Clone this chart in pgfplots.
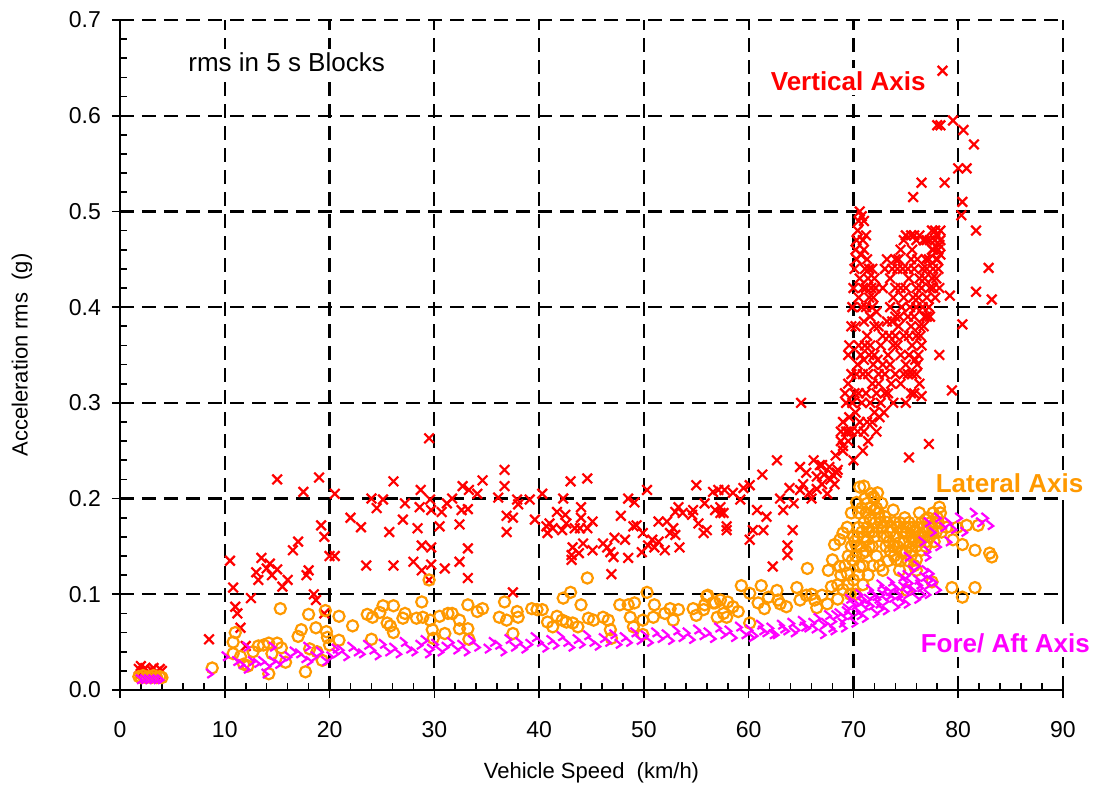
\documentclass[border=0pt]{standalone}
\usepackage{pgfplots}
\pgfplotsset{compat=1.18}
\usepackage{fontspec}
\setmainfont{Liberation Sans}
\definecolor{cred}{RGB}{255,0,0}
\definecolor{corange}{RGB}{255,153,0}
\definecolor{cmag}{RGB}{255,0,255}
\pgfdeclareplotmark{fa}{%
  \pgfpathmoveto{\pgfqpoint{-0.5\pgfplotmarksize}{0.8\pgfplotmarksize}}%
  \pgfpathlineto{\pgfqpoint{0.6\pgfplotmarksize}{-0.1\pgfplotmarksize}}%
  \pgfpathlineto{\pgfqpoint{-0.3\pgfplotmarksize}{-0.7\pgfplotmarksize}}%
  \pgfusepathqstroke}
\begin{document}
\begin{tikzpicture}
\begin{axis}[
  scale only axis, width=471.5pt, height=335pt,
  at={(0,0)}, anchor=south west,
  xmin=0, xmax=90, ymin=0, ymax=0.7,
  xtick={0,10,...,90}, ytick={0,0.1,...,0.7},
  minor x tick num=4, minor y tick num=4,
  axis lines=left, axis line style={-, line width=1.1pt},
  grid=major, major grid style={black, line width=1.1pt, dash pattern=on 7pt off 4pt},
  tick align=center, major tick length=8pt, minor tick length=3.5pt,
  tick style={black, line width=0.8pt},
  minor x tick style={yshift=1.75pt}, minor y tick style={xshift=1.75pt},
  y tick label style={/pgf/number format/fixed, /pgf/number format/fixed zerofill, /pgf/number format/precision=1, xshift=-2pt},
  /pgf/number format/assume math mode=true,
  ticklabel style={font=\fontsize{11.5}{13}\selectfont},
  x tick label style={yshift=-8pt},
  xlabel={Vehicle Speed\ \ (km/h)}, ylabel={Acceleration rms\ \ (g)},
  label style={font=\fontsize{11}{13}\selectfont},
  xlabel style={at={(axis description cs:0.5,-0.124)}, anchor=center},
  ylabel style={at={(axis description cs:-0.104,0.5)}, anchor=center},
  clip=false,
]
\draw[black, line width=1.1pt] (axis cs:90,0.070) -- (axis cs:90,0.196);
\node[font=\fontsize{13}{15}\selectfont, fill=white, inner sep=2pt] at (axis cs:15.9,0.656) {rms in 5 s Blocks};
% Vertical axis (red)
\addplot[only marks, mark=x, mark size=3.4pt, color=cred, line width=1.1pt] table {
1.8 0.022
2.0 0.025
2.2 0.020
2.4 0.023
2.6 0.018
2.0 0.017
3.0 0.021
3.2 0.023
3.5 0.019
3.8 0.022
4.0 0.020
3.4 0.017
2.8 0.016
8.5 0.053
10.5 0.135
10.8 0.107
11.0 0.087
11.2 0.080
11.5 0.065
12.0 0.046
12.5 0.096
13.0 0.123
13.2 0.115
13.5 0.138
14.0 0.127
14.3 0.132
14.5 0.120
15.0 0.220
15.0 0.126
15.5 0.108
16.0 0.115
16.5 0.146
17.0 0.155
17.5 0.207
17.8 0.120
18.0 0.125
18.5 0.100
18.7 0.094
19.0 0.222
19.2 0.172
19.5 0.160
19.5 0.080
20.0 0.140
20.5 0.205
20.5 0.140
22.0 0.180
23.0 0.170
23.5 0.130
24.0 0.200
24.5 0.190
25.1 0.199
26.1 0.218
25.7 0.165
26.1 0.130
27.0 0.178
27.2 0.195
28.0 0.134
28.4 0.169
28.6 0.191
28.7 0.209
28.8 0.151
28.8 0.125
29.5 0.263
29.6 0.199
29.7 0.188
29.7 0.149
29.7 0.131
29.5 0.115
30.5 0.171
30.7 0.186
31.0 0.127
31.2 0.195
31.7 0.200
32.4 0.173
32.4 0.134
32.6 0.188
32.7 0.213
33.2 0.148
33.2 0.117
33.2 0.189
33.3 0.209
34.1 0.205
34.6 0.219
36.1 0.201
36.7 0.230
36.7 0.213
36.9 0.182
36.9 0.165
37.5 0.180
37.5 0.102
37.9 0.199
38.0 0.194
39.1 0.199
39.6 0.178
40.3 0.205
40.7 0.171
41.0 0.174
40.8 0.164
41.3 0.169
41.7 0.186
42.2 0.167
42.3 0.200
42.5 0.183
42.6 0.174
43.0 0.218
43.2 0.149
43.1 0.141
43.1 0.136
43.4 0.169
43.8 0.143
43.9 0.169
44.0 0.180
44.0 0.191
44.2 0.153
44.6 0.221
44.6 0.169
45.1 0.176
45.1 0.146
46.1 0.153
46.5 0.149
46.8 0.144
46.9 0.121
47.1 0.139
47.2 0.159
47.8 0.182
48.2 0.157
48.5 0.138
48.5 0.200
49.0 0.171
49.1 0.196
49.3 0.172
49.8 0.144
49.9 0.164
50.3 0.209
50.4 0.151
50.8 0.157
51.0 0.149
51.4 0.176
51.4 0.155
52.0 0.146
52.2 0.176
52.5 0.164
52.8 0.169
53.0 0.186
53.0 0.162
53.3 0.191
53.4 0.149
53.7 0.185
54.6 0.183
54.7 0.188
55.0 0.214
55.2 0.174
55.7 0.164
55.8 0.195
56.6 0.207
56.8 0.188
57.1 0.209
57.3 0.191
57.6 0.185
57.9 0.167
57.7 0.209
56.0 0.167
57.3 0.185
57.9 0.171
58.5 0.206
59.2 0.199
59.5 0.211
60.1 0.214
60.1 0.157
60.4 0.167
60.8 0.188
61.4 0.167
61.7 0.181
61.3 0.225
62.3 0.129
62.7 0.240
63.0 0.200
63.3 0.188
63.7 0.151
63.7 0.141
63.9 0.211
64.2 0.167
64.9 0.233
64.9 0.209
65.0 0.300
65.5 0.227
65.8 0.206
66.5 0.223
66.8 0.235
67.0 0.215
67.5 0.205
67.7 0.233
68.0 0.225
68.4 0.227
68.3 0.245
68.5 0.230
68.8 0.260
69.0 0.280
69.0 0.250
69.3 0.300
69.5 0.270
69.5 0.320
69.8 0.330
64.3 0.195
65.2 0.215
66.0 0.200
66.5 0.210
67.2 0.225
67.8 0.220
68.2 0.215
66.2 0.240
67.0 0.235
68.8 0.270
69.2 0.310
69.5 0.350
69.6 0.360
69.8 0.380
69.9 0.400
70.0 0.420
70.1 0.440
70.2 0.460
70.3 0.470
70.4 0.480
70.5 0.490
70.6 0.500
70.8 0.495
71.0 0.490
71.2 0.475
70.7 0.455
71.0 0.460
71.3 0.450
71.5 0.440
71.8 0.440
72.0 0.430
71.2 0.420
71.5 0.410
71.8 0.400
72.2 0.395
70.8 0.400
71.0 0.385
71.3 0.370
71.6 0.360
72.0 0.350
72.3 0.345
72.6 0.360
71.0 0.345
71.4 0.330
71.8 0.320
72.2 0.310
72.6 0.300
73.0 0.310
70.5 0.360
70.3 0.330
70.5 0.310
70.8 0.300
70.2 0.290
69.8 0.270
70.6 0.280
71.0 0.270
71.4 0.260
71.8 0.280
72.2 0.270
72.5 0.285
69.5 0.260
70.0 0.240
69.0 0.255
73.0 0.330
73.3 0.350
73.5 0.340
73.8 0.360
72.8 0.370
73.2 0.385
73.5 0.400
73.8 0.410
72.8 0.420
73.0 0.440
73.2 0.450
73.5 0.430
74.0 0.420
74.2 0.440
74.5 0.460
74.8 0.470
75.0 0.475
74.5 0.420
74.0 0.390
74.3 0.380
74.6 0.400
74.2 0.360
74.5 0.350
74.8 0.370
75.0 0.340
75.2 0.330
75.5 0.310
75.0 0.300
74.5 0.320
74.0 0.330
73.8 0.300
75.3 0.370
75.5 0.380
75.6 0.360
75.8 0.390
76.0 0.400
76.0 0.370
76.2 0.410
76.3 0.380
76.5 0.420
76.6 0.400
76.8 0.430
77.0 0.440
77.0 0.410
77.2 0.450
77.3 0.420
77.5 0.460
77.6 0.440
77.8 0.470
78.0 0.450
78.0 0.475
78.2 0.465
78.3 0.480
77.5 0.430
77.8 0.410
77.2 0.400
76.8 0.390
76.5 0.360
76.2 0.350
75.9 0.345
76.0 0.330
76.3 0.320
75.8 0.440
76.0 0.470
75.5 0.475
75.2 0.440
77.0 0.470
77.5 0.480
70.3 0.450
70.6 0.430
70.9 0.470
71.1 0.440
71.4 0.430
71.7 0.420
71.9 0.410
72.1 0.420
71.2 0.400
71.6 0.390
72.0 0.380
72.4 0.380
71.1 0.360
71.5 0.350
71.9 0.340
72.4 0.330
72.8 0.340
71.2 0.310
71.6 0.300
72.0 0.290
72.4 0.320
72.9 0.290
73.3 0.310
73.6 0.320
70.4 0.340
70.7 0.350
70.9 0.330
70.1 0.310
69.9 0.300
70.4 0.270
70.9 0.250
71.3 0.280
69.6 0.285
69.3 0.270
70.2 0.380
70.5 0.410
70.9 0.420
73.4 0.370
73.7 0.385
74.0 0.370
74.4 0.390
74.8 0.410
75.0 0.420
75.3 0.430
75.5 0.450
74.7 0.440
74.3 0.450
74.0 0.450
73.7 0.440
74.8 0.330
75.3 0.350
75.6 0.330
75.8 0.310
76.1 0.340
76.4 0.370
76.7 0.380
77.0 0.390
77.3 0.390
77.6 0.420
77.9 0.430
78.1 0.440
78.2 0.420
77.9 0.450
77.6 0.460
77.3 0.470
76.9 0.450
76.6 0.440
76.3 0.430
76.0 0.420
75.7 0.410
75.4 0.400
75.2 0.390
77.8 0.480
78.1 0.460
78.3 0.455
78.3 0.470
76.7 0.470
76.3 0.475
75.8 0.475
75.6 0.460
76.1 0.450
76.5 0.530
75.7 0.515
78.5 0.647
79.5 0.595
78.0 0.590
78.3 0.590
80.5 0.585
81.5 0.570
80.0 0.545
80.8 0.545
78.7 0.530
80.4 0.510
80.3 0.496
81.7 0.480
82.9 0.441
81.7 0.416
83.2 0.408
80.4 0.382
79.2 0.412
79.4 0.313
76.5 0.307
77.2 0.257
75.3 0.243
78.2 0.350
};
% Lateral axis (orange)
\addplot[only marks, mark=o, mark size=2.8pt, color=corange, line width=1.1pt] table {
1.8 0.014
2.0 0.013
2.2 0.015
2.5 0.013
2.8 0.014
3.0 0.013
3.2 0.015
3.5 0.013
3.8 0.014
4.0 0.013
8.8 0.023
11.0 0.060
10.8 0.050
10.8 0.038
11.5 0.035
11.8 0.027
12.2 0.025
12.7 0.040
13.2 0.046
13.7 0.047
14.2 0.049
14.5 0.038
15.0 0.049
15.3 0.085
15.4 0.044
15.8 0.029
14.2 0.017
17.0 0.056
17.3 0.063
18.0 0.079
18.7 0.065
18.1 0.043
17.7 0.019
18.8 0.040
19.3 0.031
19.7 0.061
19.6 0.083
19.8 0.055
20.0 0.047
20.9 0.077
20.9 0.052
22.2 0.067
23.6 0.079
24.1 0.076
24.0 0.053
24.8 0.081
25.1 0.088
25.5 0.070
26.1 0.088
26.1 0.060
25.8 0.067
27.2 0.080
27.0 0.075
28.8 0.092
28.3 0.075
28.9 0.076
29.6 0.073
29.5 0.115
29.8 0.063
29.9 0.054
30.5 0.077
31.0 0.059
31.3 0.080
31.7 0.080
32.4 0.073
32.4 0.064
33.2 0.089
33.2 0.064
33.3 0.053
34.1 0.082
34.6 0.085
36.2 0.076
36.7 0.092
36.9 0.073
37.5 0.059
37.9 0.082
38.0 0.076
39.3 0.085
39.8 0.084
40.3 0.084
40.8 0.071
41.3 0.066
41.7 0.077
42.3 0.096
43.0 0.102
42.2 0.073
42.6 0.071
43.2 0.070
43.7 0.066
44.0 0.089
44.6 0.117
44.7 0.075
45.2 0.073
46.1 0.076
46.6 0.073
46.8 0.063
46.9 0.054
47.7 0.089
48.5 0.089
49.1 0.091
48.7 0.076
49.0 0.066
49.9 0.073
50.3 0.102
49.9 0.058
51.0 0.089
50.9 0.076
52.0 0.080
52.5 0.085
53.3 0.084
52.8 0.073
54.7 0.085
55.0 0.078
55.8 0.089
56.1 0.099
56.8 0.091
57.3 0.094
57.6 0.080
57.0 0.076
56.0 0.098
55.7 0.084
56.6 0.091
57.9 0.076
58.5 0.087
59.3 0.109
60.1 0.101
60.1 0.070
60.9 0.091
61.2 0.109
61.9 0.097
62.7 0.104
62.8 0.094
63.6 0.087
64.6 0.107
64.9 0.094
65.5 0.099
66.3 0.094
67.0 0.099
65.6 0.127
67.6 0.125
67.9 0.108
68.0 0.136
68.2 0.152
68.7 0.157
69.0 0.164
69.4 0.170
69.8 0.185
70.3 0.196
70.6 0.212
71.0 0.213
68.7 0.129
69.4 0.122
69.9 0.136
70.3 0.150
70.6 0.129
70.9 0.143
71.3 0.157
71.6 0.178
72.0 0.188
72.3 0.206
71.9 0.202
71.3 0.195
72.7 0.195
73.0 0.181
73.2 0.160
73.8 0.188
73.8 0.150
74.1 0.136
74.4 0.125
74.4 0.154
75.1 0.164
75.7 0.170
76.3 0.185
76.9 0.178
77.6 0.185
78.2 0.191
76.5 0.146
76.0 0.136
75.7 0.157
77.6 0.164
78.4 0.165
78.9 0.170
75.1 0.104
77.5 0.113
79.4 0.107
80.4 0.097
81.6 0.107
80.4 0.152
81.6 0.146
83.0 0.143
83.2 0.139
80.8 0.172
81.9 0.172
79.9 0.170
79.5 0.157
69.0 0.105
69.5 0.110
70.0 0.115
70.5 0.120
70.8 0.165
71.0 0.175
71.2 0.185
70.5 0.170
70.0 0.160
70.2 0.140
71.5 0.165
71.8 0.150
72.0 0.160
72.3 0.170
72.5 0.180
72.2 0.190
72.8 0.170
73.2 0.175
73.5 0.165
73.5 0.145
74.0 0.160
74.2 0.170
74.6 0.145
74.8 0.155
75.0 0.170
75.3 0.150
75.5 0.140
75.5 0.160
75.8 0.165
76.0 0.150
76.2 0.160
76.5 0.175
76.6 0.160
76.8 0.165
77.0 0.155
77.2 0.170
77.4 0.175
77.8 0.175
78.0 0.180
76.0 0.125
75.8 0.130
66.5 0.086
67.5 0.090
68.5 0.095
66.0 0.100
63.0 0.090
61.5 0.085
59.0 0.082
58.0 0.092
68.5 0.110
68.8 0.120
69.2 0.130
69.5 0.140
69.8 0.150
70.1 0.155
70.4 0.160
70.7 0.150
71.0 0.160
71.3 0.170
71.6 0.190
71.1 0.200
70.8 0.190
70.5 0.185
70.9 0.130
71.2 0.145
71.5 0.150
71.8 0.165
72.1 0.175
72.4 0.185
72.6 0.175
72.9 0.160
73.1 0.150
73.4 0.155
73.6 0.170
73.9 0.175
74.2 0.150
74.5 0.135
74.7 0.165
75.0 0.145
75.2 0.135
75.4 0.170
75.6 0.145
75.9 0.155
76.1 0.170
76.4 0.155
76.7 0.170
76.9 0.150
77.1 0.180
77.3 0.160
77.5 0.170
77.7 0.155
77.9 0.165
78.1 0.175
78.3 0.185
75.3 0.175
74.9 0.180
74.4 0.175
73.9 0.140
73.3 0.135
72.8 0.125
72.5 0.130
72.2 0.140
71.9 0.130
71.4 0.120
70.9 0.110
70.2 0.100
69.7 0.100
71.7 0.205
72.0 0.200
};
% Fore/aft axis (magenta)
\addplot[only marks, mark=fa, mark size=3.0pt, color=cmag, line width=1.1pt] table {
1.8 0.011
2.2 0.011
2.6 0.011
3.0 0.011
3.4 0.011
3.8 0.011
8.5 0.017
10.0 0.035
11.0 0.030
11.5 0.027
12.0 0.022
12.5 0.030
13.0 0.028
13.5 0.030
14.0 0.025
14.5 0.030
15.0 0.027
15.5 0.032
16.0 0.035
16.5 0.040
17.0 0.038
17.5 0.033
17.8 0.045
18.0 0.030
18.5 0.035
19.0 0.040
19.5 0.030
20.0 0.035
20.5 0.043
13.8 0.017
14.5 0.045
12.0 0.045
20.5 0.038
21.0 0.042
21.5 0.035
22.0 0.045
22.5 0.040
23.0 0.038
23.5 0.047
24.0 0.042
24.5 0.036
25.0 0.048
25.5 0.040
26.0 0.044
26.5 0.038
27.0 0.050
27.5 0.043
28.0 0.040
28.5 0.047
29.0 0.052
29.3 0.038
29.6 0.043
30.0 0.048
30.5 0.040
31.0 0.045
31.5 0.050
32.0 0.042
32.5 0.047
33.0 0.040
33.5 0.052
34.0 0.045
35.0 0.043
35.5 0.050
36.0 0.047
36.5 0.040
37.0 0.053
37.5 0.045
38.0 0.050
38.5 0.043
39.0 0.048
39.5 0.055
40.0 0.050
40.5 0.044
41.0 0.052
41.5 0.047
42.0 0.056
42.5 0.050
43.0 0.045
43.5 0.053
44.0 0.048
44.5 0.057
45.0 0.050
45.5 0.046
46.0 0.054
46.5 0.050
47.0 0.058
47.5 0.048
48.0 0.055
48.5 0.050
49.0 0.060
49.5 0.052
50.0 0.057
50.5 0.050
51.0 0.060
51.5 0.054
52.0 0.058
52.5 0.052
53.0 0.062
53.5 0.055
54.0 0.060
54.5 0.053
55.0 0.063
55.5 0.057
56.0 0.060
56.5 0.054
57.0 0.065
57.5 0.058
58.0 0.062
58.5 0.055
59.0 0.066
59.5 0.058
60.0 0.063
60.5 0.057
61.0 0.068
61.5 0.060
62.0 0.065
62.5 0.058
63.0 0.068
63.5 0.062
64.0 0.070
64.5 0.063
65.0 0.072
65.5 0.065
66.0 0.070
66.5 0.075
67.0 0.068
67.5 0.078
68.0 0.072
68.5 0.080
69.0 0.075
69.3 0.085
69.6 0.078
70.0 0.088
70.3 0.082
70.6 0.092
71.0 0.085
71.3 0.095
71.6 0.088
72.0 0.098
72.3 0.090
72.6 0.100
73.0 0.093
73.3 0.103
73.6 0.096
74.0 0.106
74.3 0.098
74.6 0.108
75.0 0.100
75.3 0.112
75.6 0.104
76.0 0.115
76.3 0.107
76.6 0.118
77.0 0.110
77.3 0.122
77.6 0.113
75.5 0.125
76.0 0.130
75.0 0.120
74.5 0.118
73.5 0.113
72.5 0.110
71.5 0.105
70.5 0.100
69.5 0.095
70.0 0.070
71.0 0.075
72.0 0.080
73.0 0.083
74.0 0.087
75.0 0.090
76.0 0.095
77.0 0.100
78.0 0.105
69.0 0.065
68.0 0.062
67.0 0.058
60.2 0.055
61.2 0.062
62.2 0.058
63.2 0.064
64.2 0.060
65.2 0.066
66.2 0.064
67.2 0.070
68.2 0.078
69.2 0.082
70.2 0.090
71.2 0.090
72.2 0.095
73.2 0.098
74.2 0.100
75.2 0.105
76.2 0.110
77.2 0.115
76.8 0.125
74.8 0.113
73.8 0.108
72.8 0.105
71.8 0.100
70.8 0.095
69.8 0.090
68.8 0.070
67.8 0.065
70.5 0.078
72.5 0.085
74.5 0.092
76.5 0.100
75.1 0.139
77.0 0.139
77.0 0.175
77.5 0.165
78.0 0.180
78.5 0.170
79.0 0.175
79.5 0.168
80.0 0.180
80.5 0.165
81.4 0.185
82.0 0.175
82.5 0.180
83.0 0.172
79.0 0.155
78.0 0.150
77.0 0.145
76.5 0.155
};
\node[font=\fontsize{13}{15}\selectfont\bfseries, text=cred, fill=white, inner sep=2pt] at (axis cs:69.5,0.636) {Vertical Axis};
\node[font=\fontsize{13}{15}\selectfont\bfseries, text=corange, fill=white, inner sep=2pt] at (axis cs:84.9,0.216) {Lateral Axis};
\node[font=\fontsize{13}{15}\selectfont\bfseries, text=cmag, fill=white, inner sep=2pt] at (axis cs:84.5,0.049) {Fore/ Aft Axis};
\end{axis}
\pgfresetboundingbox
\path (-60pt,-51pt) rectangle (488pt,345pt);
\end{tikzpicture}
\end{document}
